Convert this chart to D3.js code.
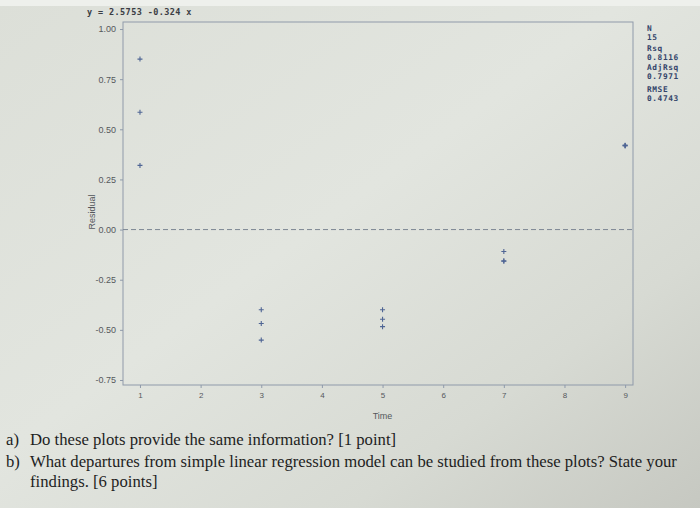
<!DOCTYPE html>
<html><head><meta charset="utf-8">
<script src="https://cdn.jsdelivr.net/npm/d3@7"></script>
<style>
html,body{margin:0;padding:0;background:#d6d8d0;}
svg{display:block;}
</style></head>
<body>
<svg id="c" width="700" height="508"></svg>
<script>
// ---- data ----
const timeValues = [1,1,1, 3,3,3, 5,5,5, 7,7,7, 9,9,9];
const residualValues = [0.85,0.585,0.32, -0.40,-0.468,-0.551, -0.40,-0.447,-0.484, -0.109,-0.156,-0.158, 0.417,0.419,0.421];
const xTicks = [1,2,3,4,5,6,7,8,9];
const yTicks = [1.00,0.75,0.50,0.25,0.00,-0.25,-0.50,-0.75];
const equationText = "y = 2.5753 -0.324 x";
const statLabels = ["N","Rsq","AdjRsq","RMSE"];
const statValues = ["15","0.8116","0.7971","0.4743"];
const questionLines = [
  ["a)","Do these plots provide the same information? [1 point]"],
  ["b)","What departures from simple linear regression model can be studied from these plots? State your"],
  ["","findings. [6 points]"]
];

(function(){
const svg = d3.select("#c");
const W = 700, H = 508;

// background (photo of screen)
const defs = svg.append("defs");
const g1 = defs.append("linearGradient").attr("id","bg").attr("x1","0").attr("y1","0").attr("x2","1").attr("y2","1");
g1.append("stop").attr("offset","0").attr("stop-color","#dcdfd8");
g1.append("stop").attr("offset","0.45").attr("stop-color","#e2e5df");
g1.append("stop").attr("offset","0.75").attr("stop-color","#d7dad3");
g1.append("stop").attr("offset","1").attr("stop-color","#c6c8c1");
svg.append("rect").attr("width",W).attr("height",H).attr("fill","url(#bg)");
svg.append("rect").attr("width",W).attr("height",6).attr("fill","#eef0ec");

// plot area
const pL = 123, pR = 633, pT = 22, pB = 385;
const x = d3.scaleLinear().domain([0.72, 9.13]).range([pL, pR]);
const y = d3.scaleLinear().domain([-0.775, 1.035]).range([pB, pT]);

const frameColor = "#8f9aaa";
svg.append("rect").attr("x",pL).attr("y",pT).attr("width",pR-pL).attr("height",pB-pT)
  .attr("fill","none").attr("stroke",frameColor).attr("stroke-width",1);

// axes
const fmt = d3.format(".2f");
const yAxis = d3.axisLeft(y).tickValues(yTicks).tickSize(3).tickFormat(d => fmt(d).replace("\u2212","-"));
const gy = svg.append("g").attr("transform",`translate(${pL},0)`).call(yAxis);
gy.select(".domain").remove();
gy.selectAll("line").attr("stroke",frameColor);
gy.selectAll("text").attr("fill","#55585c").attr("font-family","Liberation Sans, Arial, sans-serif").attr("font-size",9).attr("dx",-1);

const xAxis = d3.axisBottom(x).tickValues(xTicks).tickSize(3).tickFormat(d3.format("d"));
const gx = svg.append("g").attr("transform",`translate(0,${pB})`).call(xAxis);
gx.select(".domain").remove();
gx.selectAll("line").attr("stroke",frameColor);
gx.selectAll("text").attr("fill","#55585c").attr("font-family","Liberation Sans, Arial, sans-serif").attr("font-size",8).attr("dy","0.9em");

// axis titles
svg.append("text").attr("x",x(5)).attr("y",419).attr("text-anchor","middle")
  .attr("font-family","Liberation Sans, Arial, sans-serif").attr("font-size",9).attr("fill","#55585c").text("Time");
svg.append("text").attr("transform",`translate(95,212) rotate(-90)`).attr("text-anchor","middle")
  .attr("font-family","Liberation Sans, Arial, sans-serif").attr("font-size",9).attr("fill","#55585c").text("Residual");

// zero reference line
svg.append("line").attr("x1",pL).attr("x2",pR).attr("y1",y(0)).attr("y2",y(0))
  .attr("stroke","#7d8794").attr("stroke-width",1).attr("stroke-dasharray","5,3");

// points
const pts = svg.append("g");
timeValues.forEach((t,i)=>{
  const px = x(t), py = y(residualValues[i]);
  pts.append("path").attr("d",`M${px-2.5},${py}H${px+2.5}M${px},${py-2.5}V${py+2.5}`)
    .attr("stroke","#4f6594").attr("stroke-width",1.1);
});

// equation
svg.append("text").attr("x",87).attr("y",15).attr("font-family","DejaVu Sans Mono, monospace")
  .attr("font-size",8.5).attr("font-weight","bold").attr("fill","#3a3d44").attr("xml:space","preserve")
  .attr("letter-spacing",0.4).text(equationText);

// stats
const statY = [[31,40],[51,60],[70,79],[92,101]];
statLabels.forEach((lab,i)=>{
  svg.append("text").attr("x",647).attr("y",statY[i][0]).attr("font-family","DejaVu Sans Mono, monospace")
    .attr("font-size",7.8).attr("font-weight","bold").attr("fill","#33446a").attr("letter-spacing",0.6).text(lab);
  svg.append("text").attr("x",647).attr("y",statY[i][1]).attr("font-family","DejaVu Sans Mono, monospace")
    .attr("font-size",7.8).attr("font-weight","bold").attr("fill","#33446a").attr("letter-spacing",0.6).text(statValues[i]);
});

// question text
const qy = [445, 467, 487];
questionLines.forEach((ln,i)=>{
  if (ln[0]) svg.append("text").attr("x",6).attr("y",qy[i]).attr("font-family","Liberation Serif, Times New Roman, serif")
    .attr("font-size",16.7).attr("fill","#1e1e1e").text(ln[0]);
  svg.append("text").attr("x",30).attr("y",qy[i]).attr("font-family","Liberation Serif, Times New Roman, serif")
    .attr("font-size",16.7).attr("fill","#1e1e1e").text(ln[1]);
});
})();
</script>
</body></html>
